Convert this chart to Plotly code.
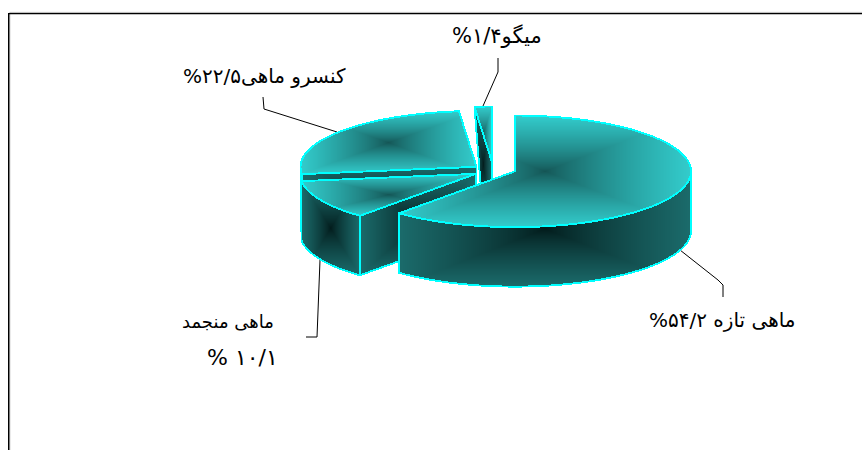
import numpy as np
import plotly.graph_objects as go

categories = ["ماهی تازه", "ماهی منجمد", "کنسرو ماهی", "میگو"]
values = [54.2, 10.1, 22.5, 1.4]
label_texts = [
    "\u202Bماهی تازه ۵۴/۲%\u202C",
    "\u202Bماهی منجمد\u202C",
    "\u202Bکنسرو ماهی۲۲/۵%\u202C",
    "\u202Bمیگو۱/۴%\u202C",
]
frozen_second_line = "\u202B۱۰/۱ %\u202C"

# Projection of the pie on the page (pixels)
W, H = 862, 450
RX, RY, DEPTH = 176.0, 55.8, 59.5
APEX = [(515.0, 171.3), (476.0, 173.8), (476.5, 166.8), (492.0, 162.3)]

TOP_LIGHT, TOP_DARK = "#33CCCC", "#145454"
WALL_LIGHT, WALL_DARK = "#1B6B6B", "#021A1A"
EDGE = "#00FFFF"
EDGE_HALF = 0.95
GAMMA = 0.78
FONT = "DejaVu Sans"


def pt(apex, a):
    r = np.radians(a)
    return apex[0] + RX * np.sin(r), apex[1] - RY * np.cos(r)


def arc(apex, a0, a1):
    n = max(2, int(abs(a1 - a0) * 1.5))
    r = np.radians(np.linspace(a0, a1, n))
    return apex[0] + RX * np.sin(r), apex[1] - RY * np.cos(r)


def inside(xp, yp, gx, gy):
    res = np.zeros(gx.shape, bool)
    j = len(xp) - 1
    for i in range(len(xp)):
        c = ((yp[i] > gy) != (yp[j] > gy)) & (
            gx < (xp[j] - xp[i]) * (gy - yp[i]) / (yp[j] - yp[i] + 1e-12) + xp[i]
        )
        res ^= c
        j = i
    return res


def edge_distance(xp, yp, gx, gy):
    best = np.full(gx.shape, np.inf)
    j = len(xp) - 1
    for i in range(len(xp)):
        dx, dy = xp[i] - xp[j], yp[i] - yp[j]
        L = dx * dx + dy * dy + 1e-12
        u = np.clip(((gx - xp[j]) * dx + (gy - yp[j]) * dy) / L, 0, 1)
        best = np.minimum(best, np.hypot(gx - xp[j] - u * dx, gy - yp[j] - u * dy))
        j = i
    return best


fig = go.Figure()


def face(xp, yp, light, dark):
    xp, yp = np.asarray(xp, float), np.asarray(yp, float)
    x0, x1, y0, y1 = xp.min(), xp.max(), yp.min(), yp.max()
    xs = np.arange(np.floor(x0) - 2, np.ceil(x1) + 3) + 0.5
    ys = np.arange(np.floor(y0) - 2, np.ceil(y1) + 3) + 0.5
    gx, gy = np.meshgrid(xs, ys)
    hw, hh = max((x1 - x0) / 2, 1), max((y1 - y0) / 2, 1)
    t = np.maximum(np.abs(gx - (x0 + x1) / 2) / hw, np.abs(gy - (y0 + y1) / 2) / hh)
    t = np.clip(t, 0, 1) ** GAMMA
    z = np.where(inside(xp, yp, gx, gy), np.round(t * 0.98, 3), np.nan)
    z = np.where(edge_distance(xp, yp, gx, gy) <= EDGE_HALF, 1.0, z)
    fig.add_trace(go.Heatmap(
        x=xs, y=ys, z=z, zmin=0, zmax=1, showscale=False, hoverinfo="skip",
        colorscale=[[0, dark], [0.98, light], [0.985, EDGE], [1, EDGE]],
    ))


sweep = np.array(values) / sum(values) * 360
starts = np.r_[0, np.cumsum(sweep)[:-1]]
ends = starts + sweep


def top_face(i):
    ax, ay = arc(APEX[i], starts[i], ends[i])
    face(np.r_[APEX[i][0], ax], np.r_[APEX[i][1], ay], TOP_LIGHT, TOP_DARK)


def radial_face(i):
    ox, oy = pt(APEX[i], starts[i])
    a = APEX[i]
    face([a[0], ox, ox, a[0]], [a[1], oy, oy + DEPTH, a[1] + DEPTH], WALL_LIGHT, WALL_DARK)


def outer_wall(i):
    a0, a1 = max(starts[i], 90), min(ends[i], 270)
    ax, ay = arc(APEX[i], a0, a1)
    face(np.r_[ax, ax[::-1]], np.r_[ay, ay[::-1] + DEPTH], WALL_LIGHT, WALL_DARK)


# back to front: shrimp, canned, frozen, fresh
ox, oy = pt(APEX[3], starts[3])
face([APEX[3][0], ox, ox + 7.5, APEX[3][0]],
     [APEX[3][1], oy, oy + 95, APEX[3][1] + DEPTH], WALL_LIGHT, WALL_DARK)
top_face(3)
outer_wall(2)
radial_face(2)
top_face(2)
radial_face(1)
outer_wall(1)
top_face(1)
outer_wall(0)
top_face(0)

# Label positions (pixels) and sizes
label_font = dict(family=FONT, color="#000000")
for x, y, txt, size in [
    (497, 36, label_texts[3], 21),
    (264, 76, label_texts[2], 20),
    (228, 321, label_texts[1], 18),
    (242, 357, frozen_second_line, 22),
    (722, 320, label_texts[0], 20),
]:
    fig.add_annotation(x=x, y=y, text=txt, showarrow=False, xref="x", yref="y",
                       font=dict(size=size, **label_font))

leaders = [
    "M498,58 L498,72 L483,106",
    "M263,97 L264,109 L337,132",
    "M320,260 L317,337 L306,337",
    "M680,250 L718,280 L723,285 L723,297",
]
shapes = [dict(type="path", path=p, xref="x", yref="y", layer="below",
               line=dict(color="#000000", width=1)) for p in leaders]
shapes.append(dict(type="path", path="M9.8,450 L9.8,12.4 L862,12.4", xref="x", yref="y",
                   layer="below", line=dict(color="#B8B8B8", width=1)))
shapes.append(dict(type="path", path="M8.7,450 L8.7,13.6 L862,13.6", xref="x", yref="y",
                   layer="below", line=dict(color="#000000", width=1.4)))

fig.update_layout(
    width=W, height=H, margin=dict(l=0, r=0, t=0, b=0), showlegend=False,
    paper_bgcolor="#FFFFFF", plot_bgcolor="#FFFFFF", shapes=shapes,
    xaxis=dict(range=[0, W], visible=False, fixedrange=True),
    yaxis=dict(range=[H, 0], visible=False, fixedrange=True),
)
fig.write_html("out.html", config={"displayModeBar": False},
               post_script="document.body.style.margin='0';document.documentElement.style.overflow='hidden';")
